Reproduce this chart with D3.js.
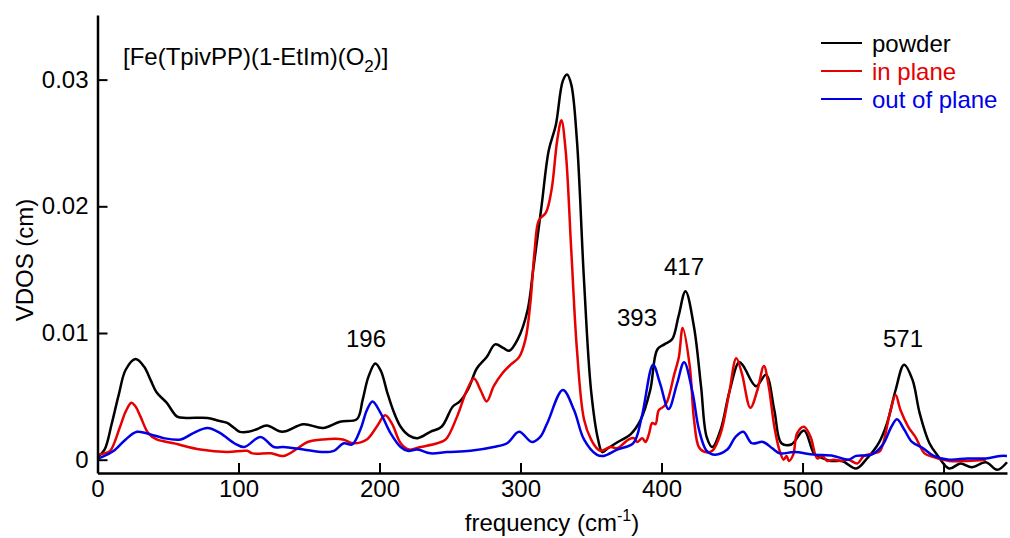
<!DOCTYPE html>
<html>
<head>
<meta charset="utf-8">
<script src="https://cdn.jsdelivr.net/npm/d3@7"></script>
<style>
  body { margin: 0; background: #fff; }
  svg { display: block; font-family: "Liberation Sans", Arial, sans-serif; }
</style>
</head>
<body>
<script>
// values (VDOS in cm, frequency in cm-1)
var powderFreq = [0, 5, 10, 15, 20, 27, 33, 37.6, 42, 49, 56.5, 63, 78, 85, 92, 97, 101, 107, 113, 120, 131, 146, 160, 172, 184, 188, 192, 197, 201, 205.5, 210, 215, 221, 227, 236, 244, 252, 257, 263, 269, 276, 282, 288, 292, 298, 305, 309, 315, 320, 325, 330, 333, 336, 340, 345, 350, 355, 358, 362, 369, 378, 385, 392, 397, 402, 407.5, 412, 417, 423, 428, 432, 436, 442, 448, 455, 458, 467, 474, 480, 485, 492, 501, 508, 511, 520, 528, 538, 545, 554, 560, 566, 572, 578, 583, 590, 596, 604, 612, 620, 630, 638, 645];
var powderVdos = [0.0002, 0.0008, 0.0028, 0.0051, 0.0071, 0.00795, 0.00735, 0.0063, 0.0053, 0.0045, 0.0034, 0.0033, 0.0033, 0.0031, 0.0029, 0.0025, 0.0022, 0.0022, 0.0024, 0.0027, 0.0022, 0.0028, 0.0025, 0.0030, 0.0032, 0.0047, 0.0065, 0.0076, 0.0070, 0.0053, 0.0038, 0.0026, 0.0019, 0.0017, 0.0022, 0.0026, 0.0042, 0.0046, 0.0056, 0.0072, 0.0081, 0.0091, 0.0088, 0.0086, 0.0095, 0.0118, 0.0150, 0.0201, 0.0244, 0.0264, 0.0299, 0.0304, 0.0296, 0.0252, 0.0142, 0.0055, 0.0016, 0.0006, 0.0009, 0.0014, 0.0020, 0.0031, 0.0055, 0.0087, 0.0091, 0.0095, 0.0113, 0.0133, 0.0105, 0.0058, 0.0018, 0.0010, 0.0024, 0.0053, 0.0077, 0.0074, 0.0058, 0.0067, 0.0039, 0.0013, 0.0012, 0.0023, 0.0005, 0.0003, -0.0001, -0.0001, -0.0007, 0.0000, 0.0013, 0.0029, 0.0055, 0.0075, 0.0063, 0.0037, 0.0013, 0.0003, -0.0007, -0.0003, -0.0006, -0.0002, -0.0008, -0.0002];

var inPlaneFreq = [0, 5, 9, 16, 20, 24, 27, 30.5, 36, 42, 54, 73, 92, 106, 110, 123, 132, 142, 149, 160, 174, 181, 191, 198, 204, 209, 215, 221, 229, 241, 247, 255, 262, 267, 271.6, 276, 281, 287, 293, 299, 303.5, 307, 310, 313, 318, 322, 326, 329, 332, 336, 340, 345, 350, 355, 357, 364, 368.6, 373.3, 376.8, 380.4, 382.7, 386.3, 388.7, 391, 393.4, 395.7, 398, 401.6, 404, 406.4, 408.7, 412.3, 415, 420, 423, 426.5, 431, 436, 442, 448, 453, 457, 463, 468, 472.6, 476, 480, 483.5, 486.6, 488.7, 490.3, 493.4, 496.2, 501, 505.7, 510.4, 514, 517.5, 522, 527, 532.6, 538.8, 543.5, 550.6, 555, 562, 566, 569.5, 575, 580, 586.5, 593, 604, 617, 630];
var inPlaneVdos = [0.0004, 0.0005, 0.0007, 0.0026, 0.0038, 0.0045, 0.0042, 0.0034, 0.0021, 0.0016, 0.0013, 0.0008, 0.0006, 0.0007, 0.0005, 0.0005, 0.0003, 0.0009, 0.0014, 0.0016, 0.0016, 0.0013, 0.0016, 0.0026, 0.0035, 0.0028, 0.0013, 0.0008, 0.0010, 0.0013, 0.0016, 0.0034, 0.0055, 0.0064, 0.0055, 0.0046, 0.0058, 0.0068, 0.0075, 0.0081, 0.0095, 0.0124, 0.0165, 0.0189, 0.0195, 0.0213, 0.0252, 0.0268, 0.0244, 0.0165, 0.0087, 0.0032, 0.0016, 0.0008, 0.0007, 0.0010, 0.0009, 0.0013, 0.0016, 0.0017, 0.0014, 0.0017, 0.0014, 0.0020, 0.0029, 0.0028, 0.0039, 0.0042, 0.0046, 0.0055, 0.0066, 0.0081, 0.0104, 0.0074, 0.0032, 0.0010, 0.0006, 0.0007, 0.0021, 0.0053, 0.0080, 0.0068, 0.0041, 0.0055, 0.0074, 0.0058, 0.0026, 0.0008, 0.0000, 0.0003, -0.0001, 0.0004, 0.0021, 0.0026, 0.0018, 0.0001, 0.0003, -0.0001, 0.0000, -0.0001, 0.0000, -0.0003, 0.0003, 0.0005, 0.0007, 0.0037, 0.0051, 0.0039, 0.0026, 0.0018, 0.0005, 0.0002, -0.0001, -0.0001, 0.0000];

var outPlaneFreq = [0, 3, 11.6, 20, 28, 37.6, 47, 59, 68, 78, 87, 97, 104, 115.6, 125, 132, 146, 160.5, 167.6, 174.7, 180.6, 186.5, 191, 195, 200.7, 207.8, 215, 220, 227, 236, 248, 264.5, 281, 290.5, 299, 308, 314, 319, 330, 338, 345, 354, 359, 368.6, 380, 386, 394, 399, 405, 411, 416, 422, 426.5, 432, 438, 446.6, 452.5, 458, 464, 472, 478.5, 484, 494, 508, 522, 532.6, 538, 549, 557, 563, 567, 572, 577.6, 585.5, 593, 604, 617, 630, 640.5, 645];
var outPlaneVdos = [0.0001, 0.0002, 0.0007, 0.0016, 0.0022, 0.0020, 0.0017, 0.0016, 0.0021, 0.0025, 0.0021, 0.0013, 0.0010, 0.0018, 0.0010, 0.0010, 0.0008, 0.0006, 0.0007, 0.0013, 0.0012, 0.0024, 0.0039, 0.0046, 0.0037, 0.0021, 0.0010, 0.0007, 0.0008, 0.0005, 0.0006, 0.0007, 0.0010, 0.0013, 0.0022, 0.0014, 0.0018, 0.0029, 0.0055, 0.0039, 0.0016, 0.0004, 0.0003, 0.0008, 0.0013, 0.0034, 0.0075, 0.0060, 0.0040, 0.0060, 0.0077, 0.0053, 0.0024, 0.0007, 0.0004, 0.0008, 0.0018, 0.0022, 0.0013, 0.0014, 0.0009, 0.0005, 0.0006, 0.0004, 0.0003, 0.0000, 0.0003, 0.0004, 0.0012, 0.0026, 0.0032, 0.0024, 0.0014, 0.0009, 0.0003, 0.0000, 0.0001, 0.0001, 0.0003, 0.0003];

var seriesNames = ["powder", "in plane", "out of plane"];
var seriesColors = ["#000000", "#e60000", "#0000e6"];

var peakFreqs = [196, 393, 417, 571];

var xMajorTicks = [0, 100, 200, 300, 400, 500, 600];
var yMajorTicks = [0, 0.01, 0.02, 0.03];

var svg = d3.select("body").append("svg")
  .attr("width", 1010)
  .attr("height", 538);

var x = d3.scaleLinear().domain([0, 645]).range([97.5, 1007]);
var y = d3.scaleLinear().domain([-0.00105, 0.0351]).range([473, 15]);

var font = 24;

// curves
var series = [
  { freq: powderFreq, vdos: powderVdos },
  { freq: inPlaneFreq, vdos: inPlaneVdos },
  { freq: outPlaneFreq, vdos: outPlaneVdos }
];

var line = d3.line()
  .x(function (d) { return x(d[0]); })
  .y(function (d) { return y(d[1]); })
  .curve(d3.curveCatmullRom.alpha(0.5));

series.forEach(function (s, i) {
  var pts = s.freq.map(function (f, j) { return [f, s.vdos[j]]; });
  svg.append("path")
    .datum(pts)
    .attr("d", line)
    .attr("fill", "none")
    .attr("stroke", seriesColors[i])
    .attr("stroke-width", 2.5)
    .attr("stroke-linejoin", "round");
});

// axes
var xMinor = d3.range(20, 645, 20).filter(function (v) { return v % 100 !== 0; });
var yMinor = [0.005, 0.015, 0.025];

var gx = svg.append("g").attr("transform", "translate(0,473)");
gx.call(d3.axisBottom(x).tickValues(xMinor).tickSize(-6).tickSizeOuter(0).tickFormat(""));
gx.call(d3.axisBottom(x).tickValues(xMajorTicks).tickSize(-10).tickSizeOuter(0).tickPadding(7));

var gy = svg.append("g").attr("transform", "translate(" + x(0) + ",0)");
gy.call(d3.axisLeft(y).tickValues(yMinor).tickSize(-6).tickSizeOuter(0).tickFormat(""));
gy.call(d3.axisLeft(y).tickValues(yMajorTicks).tickSize(-10).tickSizeOuter(0).tickPadding(9)
  .tickFormat(function (d) { return d === 0 ? "0" : d3.format(".2f")(d); }));

svg.selectAll(".domain").attr("stroke", "#000").attr("stroke-width", 2.5);
svg.selectAll(".tick line").attr("stroke", "#000").attr("stroke-width", 2);
svg.selectAll(".tick text").attr("font-size", font).attr("fill", "#000")
  .attr("font-family", "'Liberation Sans', Arial, sans-serif");

// axis titles
svg.append("text")
  .attr("transform", "translate(33,260) rotate(-90)")
  .attr("text-anchor", "middle")
  .attr("font-size", font)
  .text("VDOS (cm)");

var xt = svg.append("text")
  .attr("x", 552)
  .attr("y", 531)
  .attr("text-anchor", "middle")
  .attr("font-size", font);
xt.append("tspan").text("frequency (cm");
xt.append("tspan").attr("font-size", 16).attr("dy", -10).text("-1");
xt.append("tspan").attr("dy", 10).text(")");

// compound label
var lab = svg.append("text")
  .attr("x", 123)
  .attr("y", 65)
  .attr("font-size", font);
lab.append("tspan").text("[Fe(TpivPP)(1-EtIm)(O");
lab.append("tspan").attr("font-size", 17).attr("dy", 7).text("2");
lab.append("tspan").attr("dy", -7).text(")]");

// peak labels
var peakPos = [[366, 347], [637, 326], [684, 275], [903, 347]];
peakFreqs.forEach(function (p, i) {
  svg.append("text")
    .attr("x", peakPos[i][0])
    .attr("y", peakPos[i][1])
    .attr("text-anchor", "middle")
    .attr("font-size", font)
    .text(p);
});

// legend
seriesNames.forEach(function (name, i) {
  var ly = 43 + i * 28;
  svg.append("line")
    .attr("x1", 821).attr("x2", 862)
    .attr("y1", ly).attr("y2", ly)
    .attr("stroke", seriesColors[i])
    .attr("stroke-width", 2);
  svg.append("text")
    .attr("x", 872)
    .attr("y", ly + 9)
    .attr("font-size", font)
    .attr("fill", seriesColors[i])
    .text(name);
});
</script>
</body>
</html>
